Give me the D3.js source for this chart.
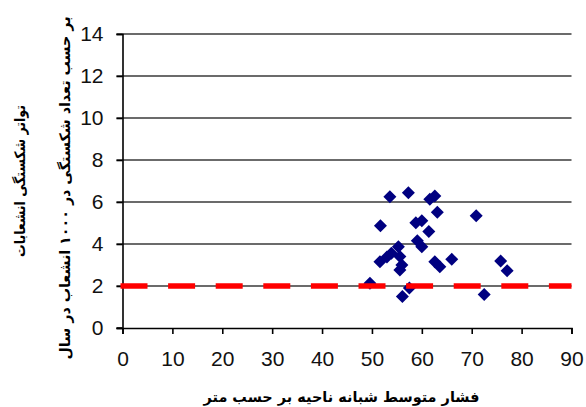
<!DOCTYPE html>
<html><head><meta charset="utf-8">
<script src="https://cdn.jsdelivr.net/npm/d3@7"></script>
<style>body{margin:0;background:#fff}svg{display:block}</style>
</head><body>
<script>
const xValues = [53.6,57.3,61.6,62.6,63.1,70.9,51.7,58.8,60.0,61.4,59.1,60.0,55.3,53.9,55.6,51.6,53.0,56.0,55.6,62.6,63.6,66.0,75.8,77.1,49.6,57.5,56.1,72.5];
const yValues = [6.25,6.44,6.13,6.29,5.51,5.35,4.87,5.01,5.11,4.59,4.16,3.87,3.87,3.56,3.40,3.16,3.38,3.00,2.76,3.16,2.92,3.27,3.19,2.73,2.13,1.90,1.50,1.60];
const xTicks = [0,10,20,30,40,50,60,70,80,90];
const yTicks = [0,2,4,6,8,10,12,14];
const thresholdValue = 2;
const xTitle = "فشار متوسط شبانه ناحیه بر حسب متر";
const yTitle1 = "تواتر شکستگی انشعابات";
const yTitle2 = "بر حسب تعداد شکستگی در ۱۰۰۰ انشعاب در سال";

const W = 586, H = 407;
const svg = d3.select("body").append("svg").attr("width", W).attr("height", H);
const x = d3.scaleLinear().domain([0,90]).range([122.5,571.5]);
const y = d3.scaleLinear().domain([0,14]).range([328,34]);
const tickFont = "Liberation Sans, Arial, sans-serif";

// gridlines
svg.append("g").selectAll("line").data(yTicks.filter(d=>d>0)).join("line")
  .attr("x1", x(0)-6).attr("x2", x(90)).attr("y1", d=>y(d)).attr("y2", d=>y(d))
  .attr("stroke", "#3a3a3a").attr("stroke-width", 1.6);

// y axis
const yAxis = svg.append("g").attr("transform", `translate(${x(0)},0)`)
  .call(d3.axisLeft(y).tickValues(yTicks).tickSize(6).tickPadding(13));
yAxis.select(".domain").attr("stroke", "#000").attr("stroke-width", 1.6);
yAxis.selectAll(".tick line").attr("stroke", "#000").attr("stroke-width", 1.6);
yAxis.selectAll("text").attr("font-family", tickFont).attr("font-size", 21).attr("fill", "#111");

// x axis
const xAxis = svg.append("g").attr("transform", `translate(0,${y(0)})`)
  .call(d3.axisBottom(x).tickValues(xTicks).tickSize(6).tickPadding(17));
xAxis.select(".domain").attr("stroke", "#000").attr("stroke-width", 1.6);
xAxis.selectAll(".tick line").attr("stroke", "#000").attr("stroke-width", 1.6);
xAxis.selectAll("text").attr("font-family", tickFont).attr("font-size", 21).attr("fill", "#111");
svg.append("line").attr("x1", x(0)-6).attr("x2", x(0)).attr("y1", y(0)).attr("y2", y(0)).attr("stroke","#000").attr("stroke-width",1.6);

// points
const r = 6.5;
svg.append("g").selectAll("path").data(xValues.map((v,i)=>[v,yValues[i]])).join("path")
  .attr("transform", d=>`translate(${x(d[0])},${y(d[1])})`)
  .attr("d", `M0,${-r}L${r},0L0,${r}L${-r},0Z`)
  .attr("fill", "#000080");

// threshold dashed line
svg.append("line").attr("x1", x(0)-2).attr("x2", x(90)).attr("y1", y(thresholdValue)).attr("y2", y(thresholdValue))
  .attr("stroke", "#ff0000").attr("stroke-width", 5.5).attr("stroke-dasharray", "27,20.6");

// titles
svg.append("text").attr("x", 341.5).attr("y", 402).attr("text-anchor","middle")
  .attr("direction","rtl").attr("textLength", 276).attr("lengthAdjust","spacingAndGlyphs")
  .attr("font-family","DejaVu Sans").attr("font-weight","bold").attr("font-size",14.5).text(xTitle);
svg.append("text").attr("transform", `translate(25,181) rotate(-90)`).attr("text-anchor","middle")
  .attr("direction","rtl").attr("textLength", 152).attr("lengthAdjust","spacingAndGlyphs")
  .attr("font-family","DejaVu Sans").attr("font-weight","bold").attr("font-size",14.5).text(yTitle1);
svg.append("text").attr("transform", `translate(70,188) rotate(-90)`).attr("text-anchor","middle")
  .attr("direction","rtl").attr("textLength", 343).attr("lengthAdjust","spacingAndGlyphs")
  .attr("font-family","DejaVu Sans").attr("font-weight","bold").attr("font-size",14.5).text(yTitle2);
</script>
</body></html>
